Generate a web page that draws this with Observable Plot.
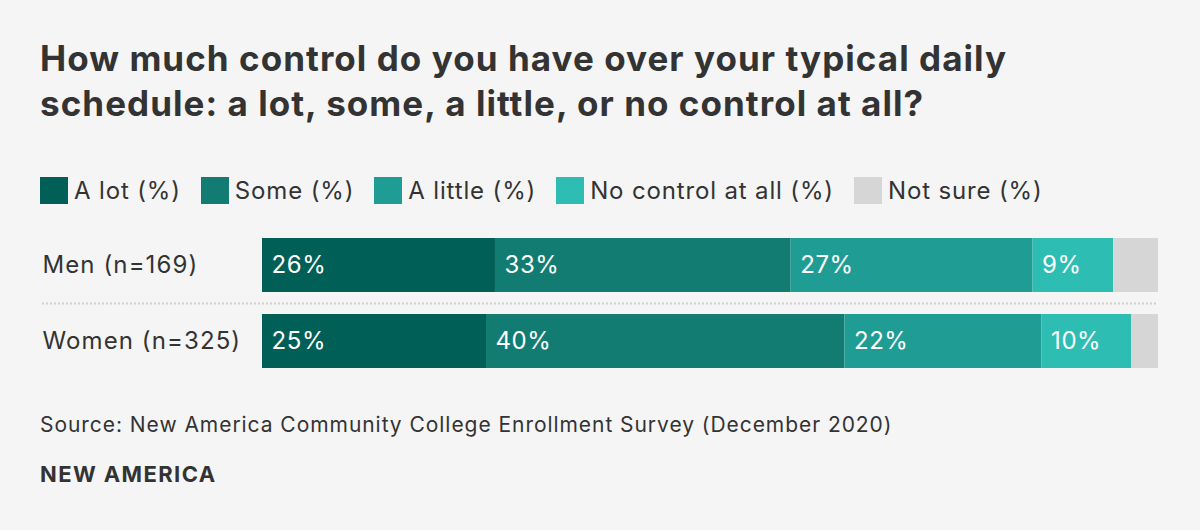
<!DOCTYPE html>
<html>
<head>
<meta charset="utf-8">
<script src="https://cdn.jsdelivr.net/npm/d3@7"></script>
<script src="https://cdn.jsdelivr.net/npm/@observablehq/plot@0.6"></script>
<style>
  html, body { margin: 0; padding: 0; background: #f5f5f5; }
  body { width: 1200px; height: 530px; position: relative; overflow: hidden; font-family: Inter, "Noto Sans", sans-serif; color: #333; }
  #title { position: absolute; left: 40px; top: 36px; font-size: 35px; font-weight: 700; line-height: 45px; letter-spacing: 1.05px; }
  #legend { position: absolute; left: 40px; top: 176px; display: flex; align-items: center; font-size: 24px; letter-spacing: 0.85px; }
  #legend .item { display: flex; align-items: center; margin-right: 20px; }
  #legend .sw { width: 28px; height: 27px; margin-right: 6px; }
  #chart { position: absolute; left: 0; top: 225px; }
  #chart g[aria-label="y-axis tick label"] text { letter-spacing: 1.1px; }
  #chart g[aria-label="text"] text { letter-spacing: 0.6px; }
  #source { position: absolute; left: 40px; top: 412px; font-size: 21px; letter-spacing: 0.95px; }
  #brand { position: absolute; left: 40px; top: 461px; font-size: 22px; font-weight: 700; letter-spacing: 1.4px; }
</style>
</head>
<body>
<div id="title">How much control do you have over your typical daily<br>schedule: a lot, some, a little, or no control at all?</div>
<div id="legend"></div>
<div id="chart"></div>
<div id="source">Source: New America Community College Enrollment Survey (December 2020)</div>
<div id="brand">NEW AMERICA</div>
<script>
const groups = ["Men (n=169)", "Women (n=325)"];
const categories = ["A lot", "Some", "A little", "No control at all", "Not sure"];
const legendLabels = ["A lot (%)", "Some (%)", "A little (%)", "No control at all (%)", "Not sure (%)"];
const colors = ["#005f56", "#127c73", "#1f9d94", "#2ebdb3", "#d6d6d6"];
const menValues = [26, 33, 27, 9, 5];
const womenValues = [25, 40, 22, 10, 3];

const data = [];
[menValues, womenValues].forEach((vals, gi) => {
  vals.forEach((v, ci) => data.push({group: groups[gi], category: categories[ci], value: v}));
});

// legend
const legend = document.getElementById("legend");
legendLabels.forEach((lab, i) => {
  const item = document.createElement("div");
  item.className = "item";
  const sw = document.createElement("div");
  sw.className = "sw";
  sw.style.background = colors[i];
  const t = document.createElement("span");
  t.textContent = lab;
  item.appendChild(sw); item.appendChild(t);
  legend.appendChild(item);
});

const chart = Plot.plot({
  width: 1200,
  height: 160,
  marginLeft: 262,
  marginRight: 42,
  marginTop: 13,
  marginBottom: 17,
  style: {background: "transparent", fontFamily: "Inter, 'Noto Sans', sans-serif"},
  x: {domain: [0, 100], axis: null},
  y: {domain: groups, paddingInner: 0.29, paddingOuter: 0, label: null},
  color: {domain: categories, range: colors},
  marks: [
    Plot.axisY({tickSize: 0, tickPadding: 220, textAnchor: "start", fontSize: 24, fill: "#333", label: null}),
    Plot.ruleY([groups[1]], {y: d => d, dy: -38, insetLeft: -220, stroke: "#d0d0d0", strokeWidth: 2, strokeDasharray: "2,2"}),
    Plot.barX(data, Plot.stackX({x: "value", y: "group", fill: "category", order: categories})),
    Plot.text(data, Plot.stackX1({
      x: "value", y: "group", z: "category", order: categories,
      text: d => d.category === "Not sure" ? "" : d.value + "%",
      textAnchor: "start", dx: 9, fill: "white", fontSize: 24
    }))
  ]
});
document.getElementById("chart").appendChild(chart);
</script>
</body>
</html>
